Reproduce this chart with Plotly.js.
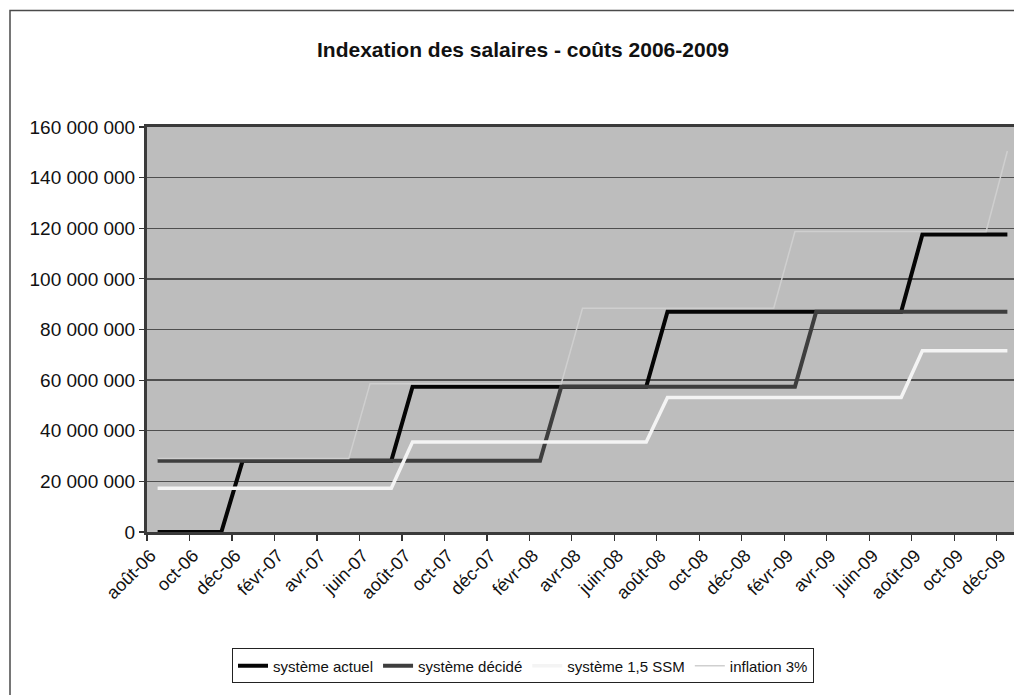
<!DOCTYPE html>
<html>
<head>
<meta charset="utf-8">
<script src="https://cdn.plot.ly/plotly-3.0.1.min.js"></script>
<style>
  html, body { margin: 0; padding: 0; overflow: hidden; background: #ffffff; }
  #chart { width: 1040px; height: 695px; }
</style>
</head>
<body>
<div id="chart"></div>
<script>
// ---- DATA ----
const months = [
  'août-06','sept-06','oct-06','nov-06','déc-06',
  'janv-07','févr-07','mars-07','avr-07','mai-07','juin-07','juil-07','août-07','sept-07','oct-07','nov-07','déc-07',
  'janv-08','févr-08','mars-08','avr-08','mai-08','juin-08','juil-08','août-08','sept-08','oct-08','nov-08','déc-08',
  'janv-09','févr-09','mars-09','avr-09','mai-09','juin-09','juil-09','août-09','sept-09','oct-09','nov-09','déc-09'
];
const tickLabels = [
  'août-06','oct-06','déc-06','févr-07','avr-07','juin-07','août-07','oct-07','déc-07',
  'févr-08','avr-08','juin-08','août-08','oct-08','déc-08','févr-09','avr-09','juin-09','août-09','oct-09','déc-09'
];
const yTicks = [0, 20000000, 40000000, 60000000, 80000000, 100000000, 120000000, 140000000, 160000000];

// système actuel
const systemeActuel = [
  0, 0, 0, 0, 28100000,
  28100000, 28100000, 28100000, 28100000, 28100000, 28100000, 28100000, 57400000, 57400000, 57400000, 57400000, 57400000,
  57400000, 57400000, 57400000, 57400000, 57400000, 57400000, 57400000, 87000000, 87000000, 87000000, 87000000, 87000000,
  87000000, 87000000, 87000000, 87000000, 87000000, 87000000, 87000000, 117500000, 117500000, 117500000, 117500000, 117500000
];
// système décidé
const systemeDecide = [
  28100000, 28100000, 28100000, 28100000, 28100000,
  28100000, 28100000, 28100000, 28100000, 28100000, 28100000, 28100000, 28100000, 28100000, 28100000, 28100000, 28100000,
  28100000, 28100000, 57400000, 57400000, 57400000, 57400000, 57400000, 57400000, 57400000, 57400000, 57400000, 57400000,
  57400000, 57400000, 87000000, 87000000, 87000000, 87000000, 87000000, 87000000, 87000000, 87000000, 87000000, 87000000
];
// système 1,5 SSM
const systeme15SSM = [
  17300000, 17300000, 17300000, 17300000, 17300000,
  17300000, 17300000, 17300000, 17300000, 17300000, 17300000, 17300000, 35600000, 35600000, 35600000, 35600000, 35600000,
  35600000, 35600000, 35600000, 35600000, 35600000, 35600000, 35600000, 53100000, 53100000, 53100000, 53100000, 53100000,
  53100000, 53100000, 53100000, 53100000, 53100000, 53100000, 53100000, 71600000, 71600000, 71600000, 71600000, 71600000
];
// inflation 3%
const inflation3 = [
  29000000, 29000000, 29000000, 29000000, 29000000,
  29000000, 29000000, 29000000, 29000000, 29000000, 58600000, 58600000, 58600000, 58600000, 58600000, 58600000, 58600000,
  58600000, 58600000, 58600000, 88400000, 88400000, 88400000, 88400000, 88400000, 88400000, 88400000, 88400000, 88400000,
  88400000, 118700000, 118700000, 118700000, 118700000, 118700000, 118700000, 118700000, 118700000, 118700000, 118700000, 150500000
];

// ---- GEOMETRY (pixels) ----
const W = 1040, H = 695;
const plotL = 147, plotR = 1018, plotT = 127, plotB = 534;
const pw = plotR - plotL, ph = plotB - plotT;
const px = v => (v - plotL) / pw;
const py = v => (plotB - v) / ph;

const FONT = 'Liberation Sans, Arial, Helvetica, sans-serif';

const traces = [
  { name: 'système actuel', x: months, y: systemeActuel, type: 'scatter', mode: 'lines',
    line: { color: '#050505', width: 4 } },
  { name: 'système décidé', x: months, y: systemeDecide, type: 'scatter', mode: 'lines',
    line: { color: '#3e3e3e', width: 4 } },
  { name: 'système 1,5 SSM', x: months, y: systeme15SSM, type: 'scatter', mode: 'lines',
    line: { color: '#f4f4f4', width: 3.5 } },
  { name: 'inflation 3%', x: months, y: inflation3, type: 'scatter', mode: 'lines',
    line: { color: '#cfcfcf', width: 1.5 } }
];

const layout = {
  width: W, height: H,
  separators: ', ',
  paper_bgcolor: '#ffffff',
  plot_bgcolor: '#bdbdbd',
  margin: { l: plotL, r: W - plotR, t: plotT, b: H - plotB, pad: 0 },
  font: { family: FONT, color: '#111111', size: 16 },
  showlegend: true,
  title: {
    text: '<b>Indexation des salaires - coûts 2006-2009</b>',
    font: { family: FONT, size: 21, color: '#111111' },
    xref: 'container', yref: 'container',
    x: 523 / W, xanchor: 'center',
    y: 1 - 50 / H, yanchor: 'middle'
  },
  xaxis: {
    type: 'category',
    range: [-0.5, months.length - 0.5],
    tickmode: 'array',
    tickvals: tickLabels,
    ticktext: tickLabels,
    tickson: 'boundaries',
    ticks: 'outside', ticklen: 6, tickwidth: 1.2, tickcolor: '#333333',
    tickangle: -45,
    ticklabelshift: -7,
    ticklabelstandoff: 3,
    tickfont: { family: FONT, size: 18, color: '#111111' },
    showgrid: false,
    showline: true, linecolor: '#3a3a3a', linewidth: 3, mirror: true,
    zeroline: false,
    fixedrange: true
  },
  yaxis: {
    range: [0, 160000000],
    tickmode: 'array',
    tickvals: yTicks,
    tickformat: ',.0f',
    ticks: 'outside', ticklen: 5, tickwidth: 1.2, tickcolor: '#333333',
    tickfont: { family: FONT, size: 19, color: '#111111' },
    showgrid: true, gridcolor: '#4f4f4f', gridwidth: 1.3,
    showline: true, linecolor: '#3a3a3a', linewidth: 3,
    zeroline: false,
    fixedrange: true
  },
  legend: {
    orientation: 'h',
    x: px(232), xanchor: 'left',
    y: py(651), yanchor: 'top',
    bgcolor: '#ffffff',
    bordercolor: '#222222', borderwidth: 1,
    font: { family: FONT, size: 15, color: '#111111' },
    itemwidth: 30,
    tracegroupgap: 0
  },
  shapes: [
    { type: 'rect', xref: 'paper', yref: 'paper',
      x0: px(10), x1: px(1036), y0: py(705), y1: py(10),
      line: { color: '#4a4a4a', width: 1.5 }, fillcolor: 'rgba(0,0,0,0)', layer: 'below' }
  ]
};

Plotly.newPlot('chart', traces, layout, { displayModeBar: false, staticPlot: true });
</script>
</body>
</html>
